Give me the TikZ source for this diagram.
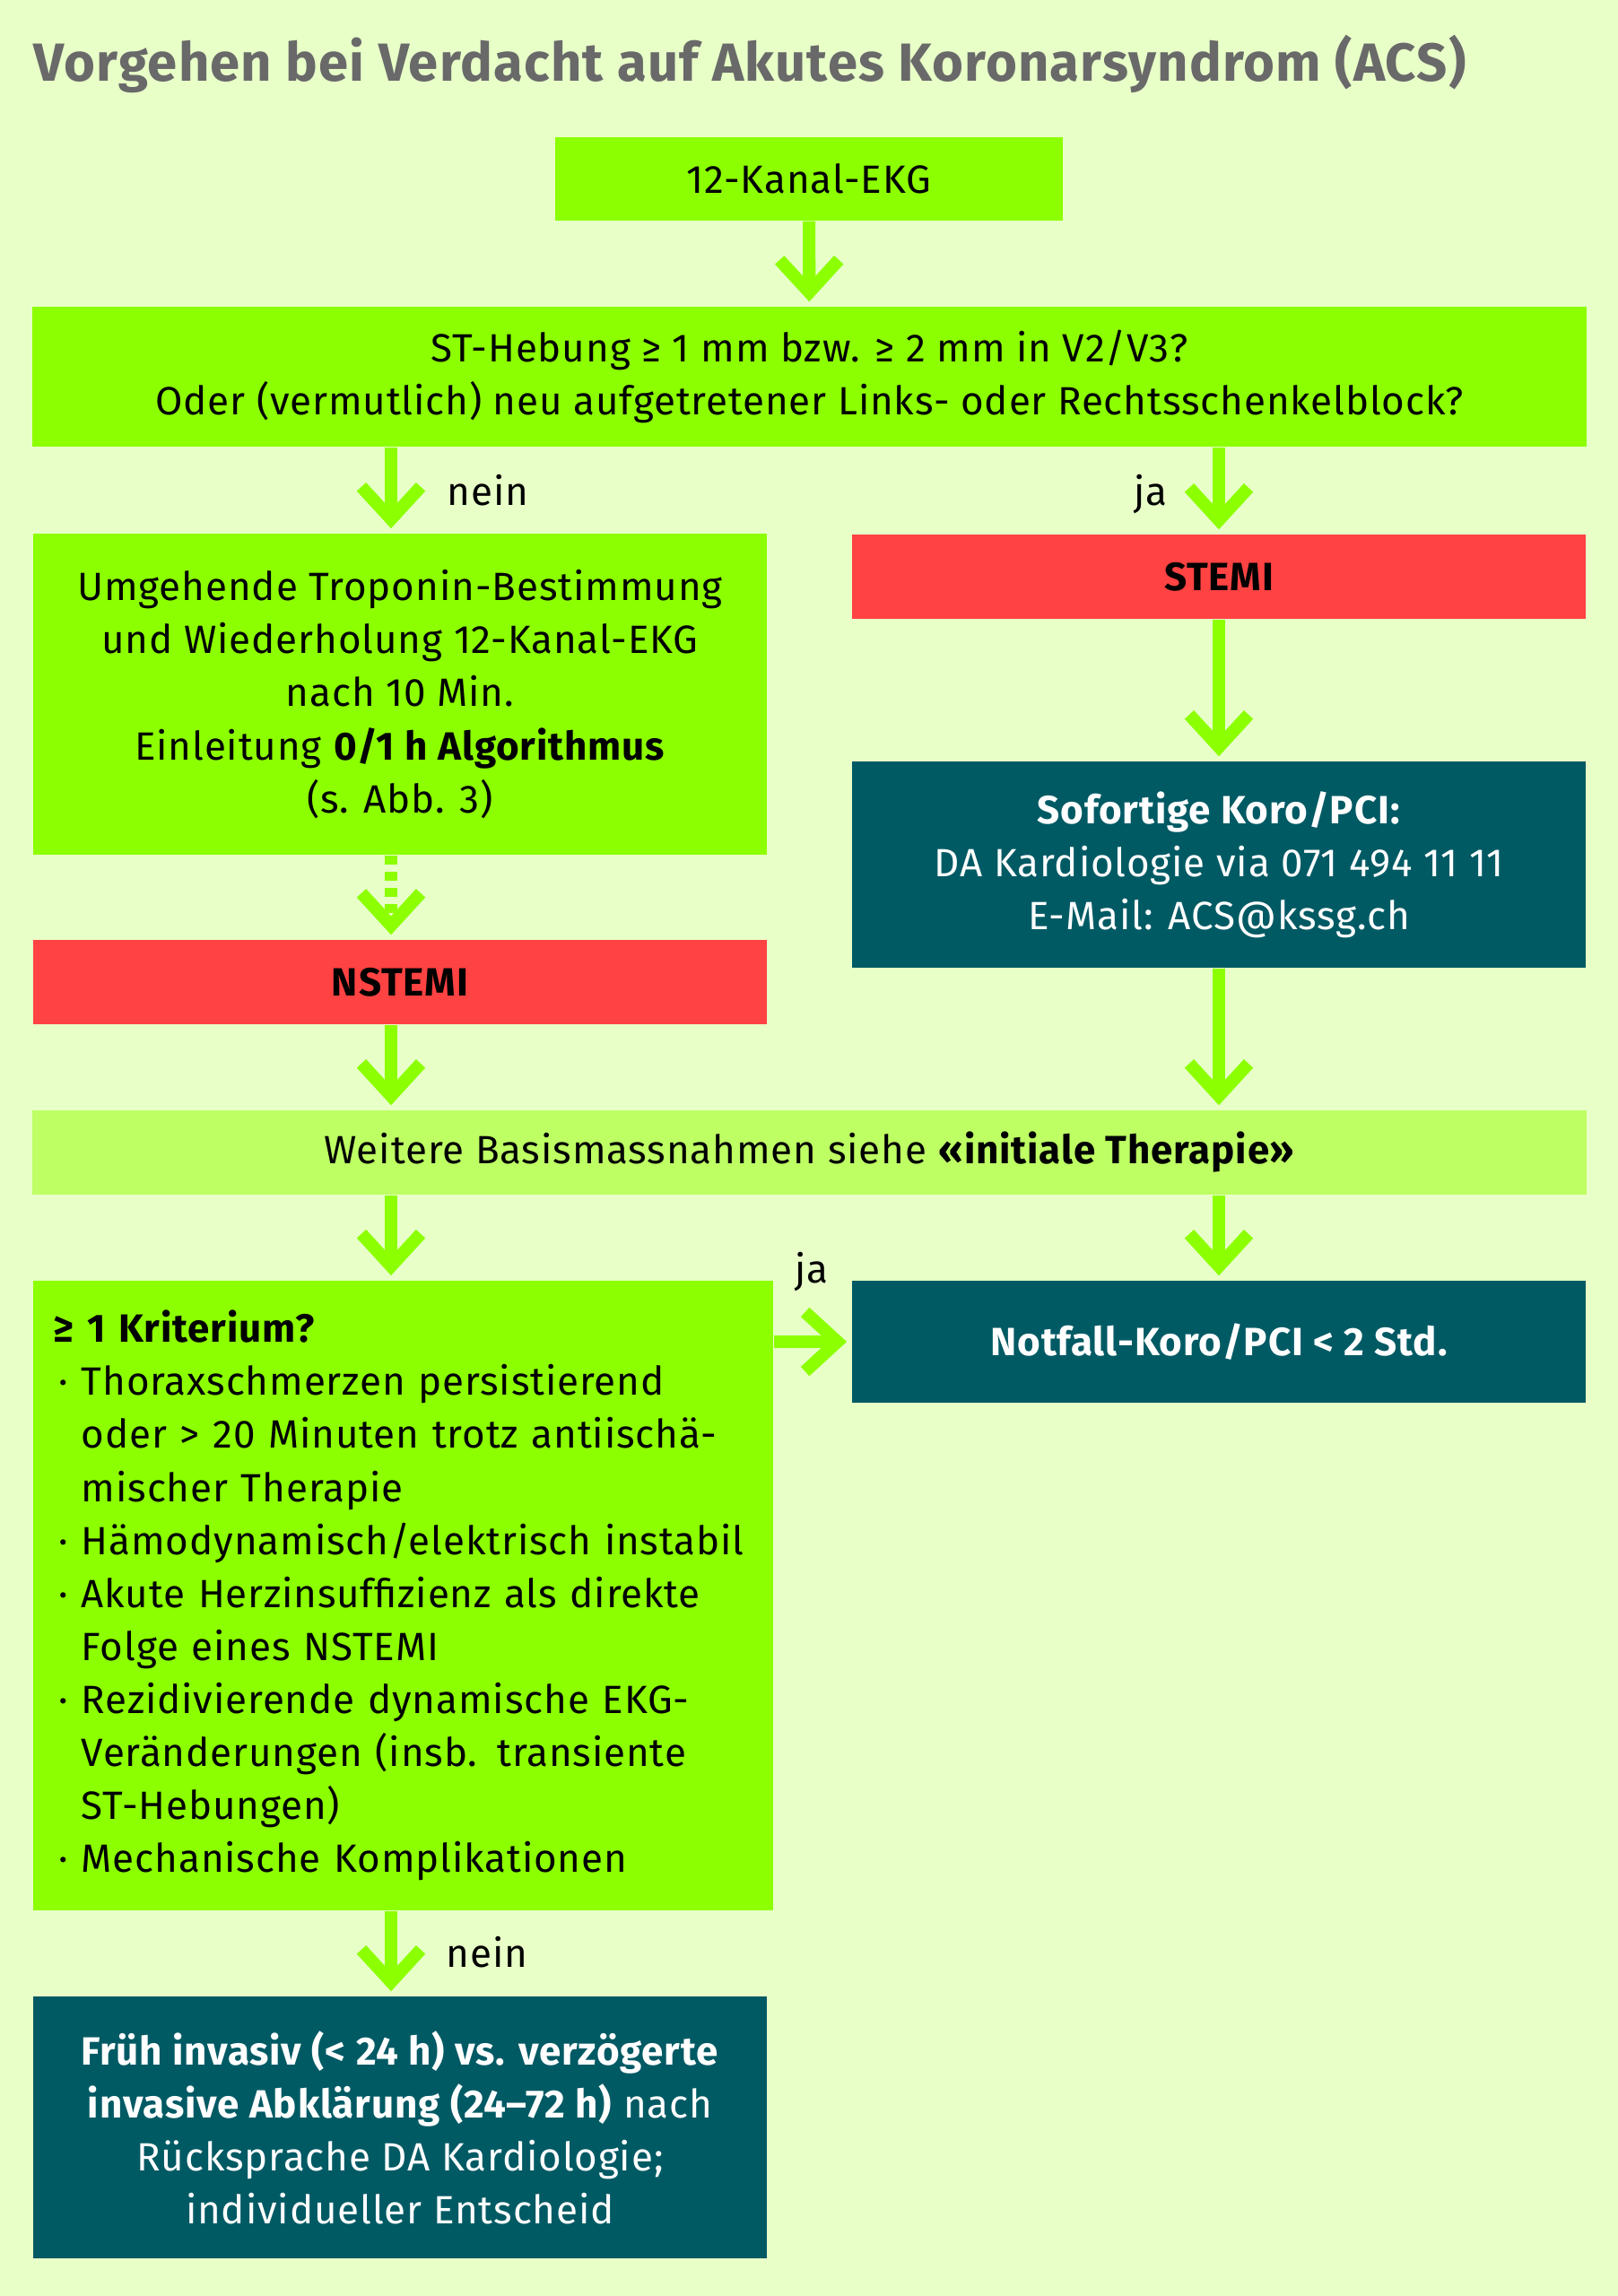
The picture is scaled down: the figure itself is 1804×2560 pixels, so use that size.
\documentclass[tikz,border=0pt]{standalone}
\usepackage{fontspec}
\setmainfont{Fira Sans}[LetterSpace=2]
\usetikzlibrary{arrows.meta}
\definecolor{hgrund}{HTML}{E8FFC8}
\definecolor{kgruen}{HTML}{8CFF00}
\definecolor{hgruen}{HTML}{BEFF64}
\definecolor{krot}{HTML}{FF4242}
\definecolor{kpetrol}{HTML}{005A64}
\definecolor{ktitel}{HTML}{696969}
\begin{document}
\begin{tikzpicture}[x=0.01cm,y=-0.01cm,
  box/.style={rectangle,inner sep=0pt,align=center,font=\fontsize{12.5}{16.8}\selectfont},
  gruen/.style={box,fill=kgruen},
  hell/.style={box,fill=hgruen},
  rot/.style={box,fill=krot,font=\fontsize{12.5}{16.8}\selectfont\bfseries},
  petrol/.style={box,fill=kpetrol,text=white},
  pfeil/.style={draw=kgruen,line width=4pt,-{Straight Barb[sharp,length=3.6mm,width=6.6mm]},shorten >=0.05cm},
  marke/.style={inner sep=0pt,anchor=base west,font=\fontsize{12.5}{16.8}\selectfont}]
\fill[hgrund](0,0)rectangle(1804,2560);
\useasboundingbox(0,0)rectangle(1804,2560);
\node[inner sep=0pt,anchor=base west,text=ktitel,font=\fontsize{17}{20}\selectfont\bfseries] (titel) at (37,90) {Vorgehen bei Verdacht auf Akutes Koronarsyndrom (ACS)};
% boxes
\node[gruen,minimum width=5.66cm,minimum height=0.93cm] (ekg) at (902,199.5) {12-Kanal-EKG};
\node[gruen,minimum width=17.31cm,minimum height=1.56cm] (st) at (902.5,420) {ST-Hebung ≥ 1 mm bzw. ≥ 2 mm in V2/V3?\\Oder (vermutlich) neu aufgetretener Links- oder Rechtsschenkelblock?};
\node[gruen,minimum width=8.18cm,minimum height=3.58cm] (trop) at (446,774) {Umgehende Troponin-Bestimmung\\und Wiederholung 12-Kanal-EKG\\nach 10 Min.\\Einleitung \textbf{0/1 h Algorithmus}\\(s. Abb. 3)};
\node[rot,minimum width=8.18cm,minimum height=0.94cm] (stemi) at (1359,643) {STEMI};
\node[rot,minimum width=8.18cm,minimum height=0.94cm] (nstemi) at (446,1095) {NSTEMI};
\node[petrol,minimum width=8.18cm,minimum height=2.30cm] (sofort) at (1359,964) {\textbf{Sofortige Koro/PCI:}\\DA Kardiologie via 071 494 11 11\\E-Mail: ACS@kssg.ch};
\node[hell,minimum width=17.31cm,minimum height=0.94cm] (weitere) at (902.5,1285) {Weitere Basismassnahmen siehe \textbf{«initiale Therapie»}};
\node[gruen,align=left,inner xsep=0.23cm,text width=7.79cm,minimum height=7.02cm] (krit) at (449.5,1779) {\textbf{≥ 1 Kriterium?}\\
  \makebox[0.31cm][l]{\hspace{0.06cm}·}Thoraxschmerzen persistierend\\
  \hspace*{0.31cm}oder > 20 Minuten trotz antiischä-\\
  \hspace*{0.31cm}mischer Therapie\\
  \makebox[0.31cm][l]{\hspace{0.06cm}·}Hämodynamisch/elektrisch instabil\\
  \makebox[0.31cm][l]{\hspace{0.06cm}·}Akute Herzinsuffizienz als direkte\\
  \hspace*{0.31cm}Folge eines NSTEMI\\
  \makebox[0.31cm][l]{\hspace{0.06cm}·}Rezidivierende dynamische EKG-\\
  \hspace*{0.31cm}Veränderungen (insb. transiente\\
  \hspace*{0.31cm}ST-Hebungen)\\
  \makebox[0.31cm][l]{\hspace{0.06cm}·}Mechanische Komplikationen};
\node[petrol,minimum width=8.18cm,minimum height=1.36cm,font=\fontsize{12.5}{16.8}\selectfont\bfseries] (notfall) at (1359,1496) {Notfall-Koro/PCI < 2 Std.};
\node[petrol,minimum width=8.18cm,minimum height=2.92cm] (frueh) at (446,2372) {\textbf{Früh invasiv (< 24 h) vs. verzögerte}\\\textbf{invasive Abklärung (24–72 h)} nach\\Rücksprache DA Kardiologie;\\individueller Entscheid};
% arrows
\coordinate (lx) at (436,0);
\draw[pfeil] (ekg) -- (st);
\draw[pfeil] (st.south -| lx) -- (trop.north -| lx);
\draw[pfeil] (st.south -| stemi) -- (stemi);
\draw[pfeil,dash pattern=on 0.1cm off 0.08cm] (trop.south -| lx) -- (nstemi.north -| lx);
\draw[pfeil] (stemi) -- (sofort);
\draw[pfeil] (nstemi.south -| lx) -- (weitere.north -| lx);
\draw[pfeil] (sofort) -- (weitere.north -| sofort);
\draw[pfeil] (weitere.south -| lx) -- (krit.north -| lx);
\draw[pfeil] (weitere.south -| notfall) -- (notfall);
\draw[pfeil] (krit.east |- notfall) -- (notfall);
\draw[pfeil] (krit.south -| lx) -- (frueh.north -| lx);
% labels
\node[marke] (nein1) at (498,563) {nein};
\node[marke] (ja1) at (1264,563) {ja};
\node[marke] (ja2) at (886,1430) {ja};
\node[marke] (nein2) at (497,2193) {nein};
\end{tikzpicture}
\end{document}
